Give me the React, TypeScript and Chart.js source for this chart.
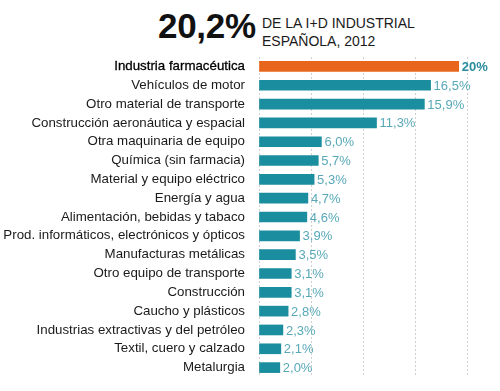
import React, { useEffect, useRef } from "react";
import { Chart, registerables } from "chart.js";

Chart.register(...registerables);

const categories = [
  "Industria farmacéutica",
  "Vehículos de motor",
  "Otro material de transporte",
  "Construcción aeronáutica y espacial",
  "Otra maquinaria de equipo",
  "Química (sin farmacia)",
  "Material y equipo eléctrico",
  "Energía y agua",
  "Alimentación, bebidas y tabaco",
  "Prod. informáticos, electrónicos y ópticos",
  "Manufacturas metálicas",
  "Otro equipo de transporte",
  "Construcción",
  "Caucho y plásticos",
  "Industrias extractivas y del petróleo",
  "Textil, cuero y calzado",
  "Metalurgia",
];
const values = [19.2, 16.5, 15.9, 11.3, 6.0, 5.7, 5.3, 4.7, 4.6, 3.9, 3.5, 3.1, 3.1, 2.8, 2.3, 2.1, 2.0];
const valueLabels = ["20%", "16,5%", "15,9%", "11,3%", "6,0%", "5,7%", "5,3%", "4,7%", "4,6%", "3,9%", "3,5%", "3,1%", "3,1%", "2,8%", "2,3%", "2,1%", "2,0%"];
const xTicks = [0, 5, 10, 15, 20];

const FONT = "'Liberation Sans', Arial, sans-serif";
const ORANGE = "#e8661c";
const TEAL = "#1a8e9e";

export default function App() {
  const ref = useRef<HTMLCanvasElement | null>(null);
  useEffect(() => {
    if (!ref.current) return;
    const labelPlugin = {
      id: "valueLabels",
      afterDatasetsDraw(chart: any) {
        const ctx = chart.ctx;
        const meta = chart.getDatasetMeta(0);
        ctx.save();
        ctx.textBaseline = "middle";
        ctx.textAlign = "left";
        meta.data.forEach((bar: any, i: number) => {
          ctx.font = (i === 0 ? "bold " : "") + "13px " + FONT;
          ctx.fillStyle = i === 0 ? "#2a8c9e" : "#58a8b8";
          ctx.fillText(valueLabels[i], bar.x + 3, bar.y + 1);
        });
        ctx.restore();
      },
    };
    const chart = new Chart(ref.current, {
      type: "bar",
      data: {
        labels: categories,
        datasets: [
          {
            data: values,
            backgroundColor: values.map((_, i) => (i === 0 ? ORANGE : TEAL)),
            barThickness: 10,
            borderWidth: 0,
          },
        ],
      },
      options: {
        indexAxis: "y",
        animation: false,
        responsive: false,
        layout: { padding: { top: 57, bottom: 13, right: 33, left: 0 } },
        plugins: { legend: { display: false }, tooltip: { enabled: false } },
        scales: {
          x: {
            min: 0,
            max: 20,
            afterBuildTicks: (scale: any) => {
              scale.ticks = xTicks.map((v) => ({ value: v }));
            },
            ticks: { display: false },
            border: { display: false, dash: [2, 2] },
            grid: {
              color: "#cfcfcf",
              lineWidth: 1,
              drawTicks: false,
            },
          } as any,
          y: {
            afterFit: (scale: any) => {
              scale.width = 259;
            },
            border: { display: false },
            grid: { display: false },
            ticks: {
              autoSkip: false,
              padding: 6,
              color: (c: any) => (c.index === 0 ? "#000" : "#1a1a1a"),
              textStrokeColor: "#000",
              textStrokeWidth: (c: any) => (c.index === 0 ? 0.3 : 0),
              font: { family: FONT, size: 13.3 },
            },
          } as any,
        },
      } as any,
      plugins: [labelPlugin],
    });
    return () => chart.destroy();
  }, []);

  return (
    <div style={{ position: "fixed", left: 0, top: 0, width: 500, height: 391, background: "#fff" }}>
      <div
        style={{
          position: "absolute",
          left: 158,
          top: 6,
          fontFamily: FONT,
          fontWeight: "bold",
          fontSize: 35,
          color: "#111",
          letterSpacing: -0.3,
        }}
      >
        20,2%
      </div>
      <div
        style={{
          position: "absolute",
          left: 262,
          top: 14,
          fontFamily: FONT,
          fontSize: 14,
          lineHeight: "18px",
          color: "#1a1a1a",
        }}
      >
        DE LA I+D INDUSTRIAL
        <br />
        ESPAÑOLA, 2012
      </div>
      <canvas ref={ref} width={500} height={391} style={{ position: "absolute", left: 0, top: 0 }} />
    </div>
  );
}
